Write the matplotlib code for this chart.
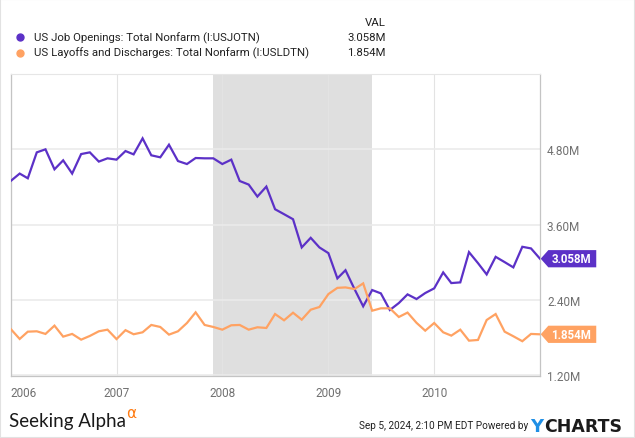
import numpy as np
import pandas as pd
import matplotlib
matplotlib.use("Agg")
import matplotlib.pyplot as plt
import matplotlib.transforms as mtransforms
from matplotlib.patches import Polygon, Rectangle
from matplotlib.lines import Line2D

plt.rcParams['font.family'] = ['Roboto', 'DejaVu Sans']

# Data (monthly, Jan 2006 - Jan 2011), millions
dates = pd.date_range('2006-01-01', periods=61, freq='MS')
job_openings = [
    4.296, 4.414, 4.339, 4.752, 4.800, 4.482, 4.625, 4.414, 4.725, 4.752, 4.605, 4.657,
    4.636, 4.773, 4.720, 4.975, 4.705, 4.673, 4.874, 4.614, 4.566, 4.662, 4.657, 4.657,
    4.566, 4.636, 4.296, 4.239, 4.048, 4.207, 3.846, 3.767, 3.687, 3.238, 3.391, 3.238,
    3.147, 2.745, 2.875, 2.575, 2.300, 2.559, 2.506, 2.241, 2.352, 2.490, 2.416, 2.511,
    2.586, 2.840, 2.670, 2.681, 3.163, 2.988, 2.808, 3.088, 3.004, 2.920, 3.248, 3.222,
    3.058,
]
layoffs = [
    1.939, 1.780, 1.896, 1.902, 1.860, 1.992, 1.817, 1.860, 1.769, 1.828, 1.902, 1.928,
    1.778, 1.920, 1.855, 1.886, 2.003, 1.971, 1.849, 1.902, 2.034, 2.204, 2.003, 1.971,
    1.928, 1.998, 2.003, 1.928, 1.966, 1.955, 2.177, 2.077, 2.198, 2.087, 2.246, 2.289,
    2.495, 2.594, 2.601, 2.575, 2.665, 2.230, 2.268, 2.268, 2.130, 2.200, 2.037, 1.912,
    2.034, 1.886, 1.833, 1.928, 1.753, 1.764, 2.082, 2.177, 1.896, 1.823, 1.744, 1.860,
    1.854,
]
series_names = ['US Job Openings: Total Nonfarm (I:USJOTN)',
                'US Layoffs and Discharges: Total Nonfarm (I:USLDTN)']
last_labels = ['3.058M', '1.854M']
colors = ['#5c31c7', '#ffa262']
y_ticks = [1.2, 2.4, 3.6, 4.8]
y_tick_labels = ['1.20M', '2.40M', '3.60M', '4.80M']
year_ticks = pd.to_datetime(['2006-01-01', '2007-01-01', '2008-01-01', '2009-01-01', '2010-01-01'])
year_labels = ['2006', '2007', '2008', '2009', '2010']
recession = (pd.Timestamp('2007-12-01'), pd.Timestamp('2009-06-01'))

W, H = 635, 439
fig = plt.figure(figsize=(W / 100, H / 100), dpi=100)


def fx(x):
    return x / W


def fy(y):
    return 1 - y / H


ax = fig.add_axes([fx(10.7), fy(377), fx(540) - fx(10.7), fy(75) - fy(377)])

ax.axvspan(recession[0], recession[1], color='#dfdfdf', lw=0, zorder=0.5)
for vals, c in zip([job_openings, layoffs], colors):
    ax.plot(dates, vals, color=c, lw=1.6, zorder=3, solid_joinstyle='miter')

ax.set_xlim(dates[0], dates[-1])
ax.set_ylim(1.19, 6.0)

ax.yaxis.tick_right()
ax.set_yticks(y_ticks)
ax.set_yticklabels(y_tick_labels)
ax.set_xticks(year_ticks)
ax.set_xticklabels(year_labels)
ax.get_xticklabels()[0].set_ha('left')
ax.tick_params(axis='both', length=0, labelsize=8.5, labelcolor='#707070')
ax.tick_params(axis='y', pad=5)
ax.tick_params(axis='x', pad=7)
ax.grid(axis='y', color='#ebebeb', lw=1.2)
ax.grid(axis='x', color='#e3e3e3', lw=0.8)
for side in ['left', 'bottom', 'right']:
    ax.spines[side].set_color('#c4c4c4')
    ax.spines[side].set_linewidth(0.9)
ax.spines['top'].set_color('#e6e6e6')

# last value tags
base = mtransforms.blended_transform_factory(ax.transAxes, ax.transData)
for lab, c, vals in zip(last_labels, colors, [job_openings, layoffs]):
    tr = mtransforms.Affine2D().scale(fig.dpi / 72.) + \
        mtransforms.ScaledTranslation(1.0, vals[-1], base)
    poly = Polygon([(0.5, 0), (6, 6.2), (40.5, 6.2), (40.5, -6.2), (6, -6.2)],
                   closed=True, facecolor=c, edgecolor='none', transform=tr,
                   clip_on=False, zorder=5)
    ax.add_patch(poly)
    off = mtransforms.ScaledTranslation(22.5 / 72., 0, fig.dpi_scale_trans)
    ax.text(1.0, vals[-1], lab, transform=base + off, ha='center', va='center',
            color='white', fontsize=8.3, fontweight='bold', zorder=6, clip_on=False)

# legend
fig.text(fx(386), fy(23), 'VAL', ha='right', va='center', fontsize=8.2, color='#222222')
for i, (name, lab, c) in enumerate(zip(series_names, last_labels, colors)):
    yy = fy(38 + 15.5 * i)
    fig.add_artist(Line2D([fx(20)], [yy], marker='o', markersize=5, color=c,
                          transform=fig.transFigure))
    fig.text(fx(34), yy, name, ha='left', va='center', fontsize=8.2, color='#222222')
    fig.text(fx(386), yy, lab, ha='right', va='center', fontsize=8.2, color='#222222')

# footer
renderer = fig.canvas.get_renderer()
sa = fig.text(fx(9), fy(427), 'Seeking Alpha', ha='left', va='baseline', fontsize=13.5,
              family='Lato', color='#1a1a1a')
sa_end = sa.get_window_extent(renderer).x1
fig.text(sa_end / W + fx(0.5), fy(414), '\u03b1', ha='left', va='center', fontsize=11,
         color='#ff7a10', family='DejaVu Sans')
fig.text(fx(528), fy(426), 'Sep 5, 2024, 2:10 PM EDT Powered by', ha='right',
         va='center', fontsize=7.2, color='#222222')
yl = fig.text(fx(530), fy(432), 'Y', ha='left', va='baseline', fontsize=13,
              fontweight='bold', color='#1f8fe5', family='DejaVu Sans')
y_end = yl.get_window_extent(renderer).x1
fig.text(y_end / W + fx(1), fy(432), 'CHARTS', ha='left', va='baseline', fontsize=12.5,
         fontweight='bold', color='#1b1b1b', family='DejaVu Sans')

fig.add_artist(Rectangle((0, 0), 1, 1, transform=fig.transFigure, fill=False,
                         edgecolor='#e2e2e2', lw=1.5))

fig.savefig('out.png', dpi=100)
